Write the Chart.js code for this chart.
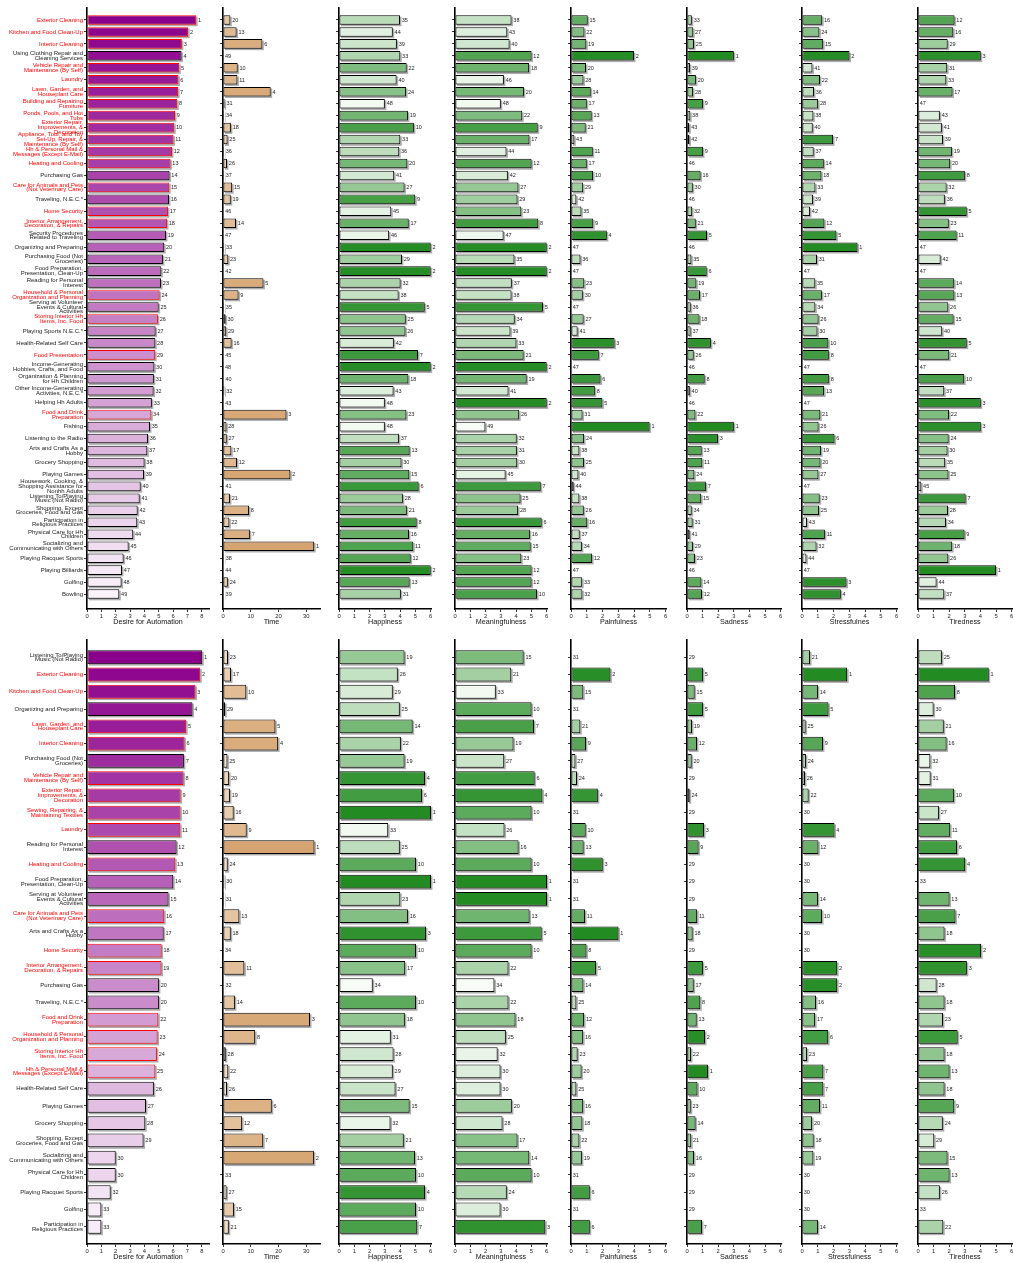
<!DOCTYPE html>
<html><head><meta charset="utf-8">
<script src="https://cdn.jsdelivr.net/npm/chart.js@4.4.1/dist/chart.umd.min.js"></script>
<style>
html,body{margin:0;padding:0;background:#fff;}
#wrap{position:relative;width:1013px;height:1263px;overflow:hidden;background:#fff;}
canvas{position:absolute;}
</style></head><body><div id="wrap"></div>
<script>
// ---------------- DATA ----------------
const topCats = [
"Exterior Cleaning","Kitchen and Food Clean-Up","Interior Cleaning","Using Clothing Repair and\nCleaning Services",
"Vehicle Repair and\nMaintenance (By Self)","Laundry","Lawn, Garden, and\nHouseplant Care","Building and Repairing\nFurniture",
"Ponds, Pools, and Hot\nTubs","Exterior Repair,\nImprovements, &\nDecoration","Appliance, Tool, and Toy\nSet-Up, Repair, &\nMaintenance (By Self)",
"Hh & Personal Mail &\nMessages (Except E-Mail)","Heating and Cooling","Purchasing Gas","Care for Animals and Pets\n(Not Veterinary Care)",
"Traveling, N.E.C.*","Home Security","Interior Arrangement,\nDecoration, & Repairs","Security Procedures\nRelated to Traveling",
"Organizing and Preparing","Purchasing Food (Not\nGroceries)","Food Preparation,\nPresentation, Clean-Up","Reading for Personal\nInterest",
"Household & Personal\nOrganization and Planning","Serving at Volunteer\nEvents & Cultural\nActivities","Storing Interior Hh\nItems, Inc. Food",
"Playing Sports N.E.C.*","Health-Related Self Care","Food Presentation","Income-Generating\nHobbies, Crafts, and Food",
"Organization & Planning\nfor Hh Children","Other Income-Generating\nActivities, N.E.C.*","Helping Hh Adults","Food and Drink\nPreparation",
"Fishing","Listening to the Radio","Arts and Crafts As a\nHobby","Grocery Shopping","Playing Games",
"Housework, Cooking, &\nShopping Assistance for\nNonhh Adults","Listening To/Playing\nMusic (Not Radio)","Shopping, Except\nGroceries, Food and Gas",
"Participation in\nReligious Practices","Physical Care for Hh\nChildren","Socializing and\nCommunicating with Others",
"Playing Racquet Sports","Playing Billiards","Golfing","Bowling"];
const topRed = [0,1,2,4,5,6,7,8,9,10,11,12,14,16,17,23,25,28,33];

const topAuto = [7.61,7.05,6.61,6.59,6.43,6.37,6.35,6.29,6.13,6.08,6.03,5.92,5.82,5.75,5.73,5.71,5.64,5.57,5.50,5.38,5.29,5.18,5.16,5.06,4.99,4.94,4.78,4.76,4.75,4.69,4.66,4.64,4.52,4.48,4.39,4.25,4.20,4.01,3.97,3.74,3.67,3.53,3.50,3.22,2.90,2.55,2.44,2.41,2.25];
const topAutoRank = [1,2,3,4,5,6,7,8,9,10,11,12,13,14,15,16,17,18,19,20,21,22,23,24,25,26,27,28,29,30,31,32,33,34,35,36,37,38,39,40,41,42,43,44,45,46,47,48,49];
const topTime = [2.65,4.9,14.2,0.05,5.3,5.2,17.2,0.6,0.4,2.85,1.65,0.35,1.45,0.32,3.3,2.8,0.12,4.7,0.1,0.45,1.9,0.2,14.6,5.6,0.37,0.95,1.15,3.1,0.14,0.08,0.25,0.5,0.18,22.9,1.25,1.35,3.0,5.05,24.3,0.22,2.5,9.4,2.3,9.7,32.9,0.3,0.16,1.75,0.28];
const topTimeRank = [20,13,6,49,10,11,4,31,34,18,25,36,26,37,15,19,46,14,47,33,23,42,5,9,35,30,29,16,45,48,40,32,43,3,28,27,17,12,2,41,21,8,22,7,1,38,44,24,39];
const topHapp = [3.99,3.52,3.79,4.01,4.43,3.77,4.39,3.0,4.51,4.90,4.01,3.94,4.47,3.61,4.29,4.99,3.42,4.56,3.28,6.0,4.12,6.0,4.03,3.90,5.61,4.37,4.35,3.59,5.17,6.0,4.54,3.57,3.0,4.41,3.0,3.92,4.62,4.09,4.60,5.21,4.18,4.44,5.08,4.58,4.86,4.69,6.0,4.62,4.05];
const topHappRank = [35,44,39,33,22,40,24,48,19,10,33,36,20,41,27,9,45,17,46,2,29,2,32,38,5,25,26,42,7,2,18,43,48,23,48,37,13,30,15,6,28,21,8,16,11,12,2,13,31];
const topMean = [3.70,3.42,3.57,5.01,4.85,3.20,4.51,3.0,4.40,5.41,4.87,3.37,5.01,3.46,4.15,4.09,4.34,5.45,3.18,6.0,3.89,6.0,3.72,3.70,5.76,3.91,3.63,4.02,4.49,6.0,4.69,3.50,6.0,4.20,1.99,4.04,4.05,4.07,3.31,5.61,4.29,4.13,5.67,4.90,4.95,4.34,5.01,5.01,5.37];
const topMeanRank = [38,43,40,12,18,46,20,48,22,9,17,44,12,42,27,29,23,8,47,2,35,2,37,38,5,34,39,33,21,2,19,41,2,26,49,32,31,30,45,7,25,28,6,16,15,23,12,12,10];
const topPain = [1.06,0.85,0.97,3.99,0.95,0.79,1.25,1.0,1.31,0.93,0.21,1.38,1.0,1.40,0.77,0.34,0.66,1.41,2.27,0,0.60,0,0.84,0.75,0,0.80,0.42,2.76,1.76,0,1.87,1.51,1.99,0.73,4.98,0.83,0.53,0.82,0.47,0.17,0.53,0.81,1.03,0.55,0.69,1.34,0,0.71,0.72];
const topPainRank = [15,22,19,2,20,28,14,17,13,21,43,11,17,10,29,42,35,9,4,47,36,47,23,30,47,27,41,3,7,47,6,8,5,31,1,24,38,25,40,44,38,26,16,37,34,12,47,33,32];
const topSad = [0.31,0.40,0.45,3.0,0.19,0.57,0.39,1.02,0.21,0.15,0.16,1.02,0,0.87,0.37,0,0.33,0.56,1.28,0,0.28,1.26,0.60,0.83,0.24,0.80,0.23,1.53,0.43,0,1.13,0.18,0,0.54,3.0,1.98,0.94,0.98,0.47,1.21,0.91,0.30,0.36,0.17,0.38,0.51,0,0.92,0.96];
const topSadRank = [33,27,25,1,39,20,28,9,38,43,42,9,46,16,30,46,32,21,5,46,35,6,19,17,36,18,37,4,26,46,8,40,46,22,1,3,13,11,24,7,15,34,31,41,29,23,46,14,12];
const topStress = [1.28,1.10,1.34,3.01,0.66,1.14,0.76,1.02,0.72,0.68,1.97,0.74,1.38,1.23,0.85,0.70,0.51,1.42,2.18,3.52,0.95,0,0.84,1.26,0.845,1.05,0.98,1.67,1.70,0,1.70,1.40,0,1.16,1.05,2.06,1.21,1.17,1.04,0,1.12,1.08,0.32,1.45,0.92,0.28,0,2.82,2.46];
const topStressRank = [16,24,15,2,41,22,36,28,38,40,7,37,14,18,33,39,42,12,5,1,31,47,35,17,34,26,30,10,8,47,8,13,47,21,26,6,19,20,27,47,23,25,43,11,32,44,47,3,4];
const topTired = [2.34,2.26,1.90,4.02,1.87,1.81,2.21,0,1.40,1.53,1.60,2.17,2.06,3.0,1.83,1.72,3.12,1.97,2.47,0,1.45,0,2.32,2.33,1.94,2.28,1.55,3.12,2.0,0,2.96,1.68,4.02,1.99,4.02,1.96,1.89,1.74,1.95,0.21,3.05,1.92,1.79,2.98,2.19,1.94,5.0,1.19,1.68];
const topTiredRank = [12,16,29,3,31,33,17,47,43,41,39,19,20,8,32,36,5,23,11,47,42,47,14,13,26,15,40,5,21,47,10,37,3,22,3,24,30,35,25,45,7,28,34,9,18,26,1,44,37];

const botCats = [
"Listening To/Playing\nMusic (Not Radio)","Exterior Cleaning","Kitchen and Food Clean-Up","Organizing and Preparing",
"Lawn, Garden, and\nHouseplant Care","Interior Cleaning","Purchasing Food (Not\nGroceries)","Vehicle Repair and\nMaintenance (By Self)",
"Exterior Repair,\nImprovements, &\nDecoration","Sewing, Repairing, &\nMaintaining Textiles","Laundry","Reading for Personal\nInterest",
"Heating and Cooling","Food Preparation,\nPresentation, Clean-Up","Serving at Volunteer\nEvents & Cultural\nActivities",
"Care for Animals and Pets\n(Not Veterinary Care)","Arts and Crafts As a\nHobby","Home Security","Interior Arrangement,\nDecoration, & Repairs",
"Purchasing Gas","Traveling, N.E.C.*","Food and Drink\nPreparation","Household & Personal\nOrganization and Planning",
"Storing Interior Hh\nItems, Inc. Food","Hh & Personal Mail &\nMessages (Except E-Mail)","Health-Related Self Care","Playing Games",
"Grocery Shopping","Shopping, Except\nGroceries, Food and Gas","Socializing and\nCommunicating with Others","Physical Care for Hh\nChildren",
"Playing Racquet Sports","Golfing","Participation in\nReligious Practices"];
const botRed = [1,2,4,5,7,8,9,10,12,15,17,18,21,22,23,24];

const botAuto = [8.03,7.89,7.56,7.35,6.91,6.80,6.75,6.73,6.52,6.51,6.50,6.24,6.15,6.01,5.68,5.38,5.34,5.20,5.19,5.01,5.01,4.97,4.92,4.87,4.76,4.66,4.11,4.06,3.94,2.0,2.0,1.65,1.0,1.0];
const botAutoRank = [1,2,3,4,5,6,7,8,9,10,11,12,13,14,15,16,17,18,19,20,20,22,23,24,25,26,27,28,29,30,30,32,33,33];
const botTime = [1.8,2.9,8.4,0.8,18.9,19.9,1.6,2.2,2.5,3.85,8.55,33.0,1.7,0.5,0.35,5.9,2.8,0.05,7.7,0.25,4.3,31.4,11.6,1.0,1.9,1.45,17.6,6.9,14.5,32.8,0.1,1.3,3.95,2.1];
const botTimeRank = [23,17,10,29,5,4,25,20,19,16,9,1,24,30,31,13,18,34,11,32,14,3,8,28,22,26,6,12,7,2,33,27,15,21];
const botHapp = [4.29,3.85,3.52,3.98,4.82,4.05,4.29,5.63,5.43,6.02,3.22,3.98,5.04,6.02,4.01,4.51,5.69,5.04,4.33,2.21,5.04,4.31,3.39,3.57,3.52,3.70,4.62,3.37,4.24,4.97,5.04,5.63,5.04,5.12];
const botHappRank = [19,26,29,25,14,22,19,4,6,1,33,25,10,1,23,16,3,10,17,34,10,18,31,28,29,27,15,32,21,13,10,4,10,7];
const botMean = [4.49,3.68,2.67,5.01,5.17,3.83,3.22,5.21,5.72,5.01,3.24,4.16,5.01,6.02,6.02,4.88,5.67,5.01,3.50,2.58,3.50,3.96,3.33,2.79,2.98,2.98,3.72,3.11,4.09,4.86,5.01,3.39,2.98,5.91];
const botMeanRank = [15,21,33,10,7,19,27,6,4,10,26,16,10,1,1,13,5,10,22,34,22,18,25,32,30,30,20,28,17,14,10,24,30,3];
const botPain = [0,2.50,0.78,0,0.59,0.95,0.28,0.38,1.70,0,0.93,0.80,2.01,0,0,0.89,3.01,0.98,1.59,0.785,0.34,0.83,0.77,0.42,0.67,0.34,0.77,0.72,0.53,0.69,0,1.19,0,1.19];
const botPainRank = [31,2,15,31,21,9,27,24,4,31,10,13,3,31,31,11,1,8,5,14,25,12,16,23,20,25,16,18,22,19,31,6,31,6];
const botSad = [0,1.02,0.49,1.02,0.32,0.64,0.30,0,0.17,0,1.09,0.74,0,0,0,0.65,0.36,0,1.02,0.43,0.85,0.62,1.15,0.26,1.34,0.67,0.24,0.55,0.27,0.45,0,0,0,0.96];
const botSadRank = [29,5,15,5,19,12,20,29,24,29,3,9,29,29,29,11,18,29,5,17,8,13,2,22,1,10,23,14,21,16,29,29,29,7];
const botStress = [0.51,2.86,1.01,1.68,0.23,1.33,0.25,0.19,0.42,0,2.06,1.04,0,0,1.01,1.27,0,0,2.23,2.23,0.89,0.83,1.66,0.32,1.35,1.35,1.14,0.64,0.74,0.72,0,0,0,1.01];
const botStressRank = [21,1,14,5,25,9,24,26,22,30,4,12,30,30,14,10,30,30,2,2,16,17,6,23,7,7,11,20,18,19,30,30,30,14];
const botTired = [1.53,4.53,2.37,1.00,1.65,1.83,0.79,0.81,2.30,1.34,2.06,2.50,3.02,0,2.02,2.40,1.70,4.04,3.13,1.19,1.70,1.60,2.54,1.70,2.02,1.70,2.32,1.59,1.04,1.89,2.02,1.40,0,1.62];
const botTiredRank = [25,1,8,30,21,16,32,31,10,27,11,6,4,33,13,7,18,2,3,28,18,23,5,18,13,18,9,24,29,15,13,26,33,22];

const topTitles = ["Desire for Automation","Time","Happiness","Meaningfulness","Painfulness","Sadness","Stressfulnes","Tiredness"];
const botTitles = ["Desire for Automation","Time","Happiness","Meaningfulness","Painfulness","Sadness","Stressfulness","Tiredness"];
const autoTicks = [0,1,2,3,4,5,6,7,8];
const timeTicks = [0,10,20,30];
const scoreTicks = [0,1,2,3,4,5,6];

// ---------------- STYLE / LAYOUT ----------------
const FONT = "'Liberation Sans', Arial, Helvetica, sans-serif";
const GREEN = {dark:[34,139,34], light:[247,252,246]};
const columns = [
  {left:87,    width:122.3, max:8.5,  ticks:autoTicks,  dark:[139,0,139],   light:[250,243,250]},
  {left:223.3, width:96.7,  max:35,   ticks:timeTicks,  dark:[214,164,112], light:[255,251,246]},
  {left:339,   width:91.6,  max:6.02, ticks:scoreTicks, ...GREEN},
  {left:455,   width:91.6,  max:6.02, ticks:scoreTicks, ...GREEN},
  {left:571,   width:94.5,  max:6.02, ticks:scoreTicks, ...GREEN},
  {left:686.7, width:94.3,  max:6.02, ticks:scoreTicks, ...GREEN},
  {left:802.3, width:94.6,  max:6.02, ticks:scoreTicks, ...GREEN},
  {left:918.3, width:94.3,  max:6.02, ticks:scoreTicks, ...GREEN}
];
const panels = [
  {top:8, bottom:609, ymax:50.25, cats:topCats, red:topRed, titles:topTitles,
   values:[topAuto,topTime,topHapp,topMean,topPain,topSad,topStress,topTired],
   ranks:[topAutoRank,topTimeRank,topHappRank,topMeanRank,topPainRank,topSadRank,topStressRank,topTiredRank]},
  {top:640, bottom:1244, ymax:35, cats:botCats, red:botRed, titles:botTitles,
   values:[botAuto,botTime,botHapp,botMean,botPain,botSad,botStress,botTired],
   ranks:[botAutoRank,botTimeRank,botHappRank,botMeanRank,botPainRank,botSadRank,botStressRank,botTiredRank]}
];

function mix(a,b,t){return 'rgb('+a.map((v,i)=>Math.round(v+(b[i]-v)*t)).join(',')+')';}

const shadowPlugin = {id:'shadow', beforeDatasetsDraw(chart){
  const ctx = chart.ctx; const meta = chart.getDatasetMeta(0);
  ctx.save(); ctx.fillStyle = 'rgba(0,0,0,0.32)';
  meta.data.forEach(el => {
    const p = el.getProps(['x','y','base','height'], true);
    const w = p.x - p.base; if (w <= 0.05) return;
    ctx.fillRect(p.base + 1.5, p.y - p.height/2 + 1.5, w, p.height);
  });
  ctx.restore();
}};
function rankPlugin(ranks){ return {id:'ranks', afterDatasetsDraw(chart){
  const ctx = chart.ctx; const meta = chart.getDatasetMeta(0);
  ctx.save(); ctx.font = '5.5px ' + FONT; ctx.fillStyle = '#222'; ctx.textBaseline = 'middle'; ctx.textAlign = 'left';
  meta.data.forEach((el,i) => { ctx.fillText(String(ranks[i]), el.x + 1.8, el.y + 0.3); });
  ctx.restore();
}};}

const wrap = document.getElementById('wrap');
function makeChart(panel, ci){
  const col = columns[ci];
  const padL = ci === 0 ? 87 : 8, padR = 14, padT = 4, padB = 17;
  const plotH = panel.bottom - panel.top;
  const c = document.createElement('canvas');
  c.width = Math.round(padL + col.width + padR);
  c.height = Math.round(padT + plotH + padB);
  c.style.left = (col.left - padL) + 'px';
  c.style.top = (panel.top - padT) + 'px';
  wrap.appendChild(c);
  const vals = panel.values[ci], ranks = panel.ranks[ci];
  const maxRank = panel.cats.length;
  const data = vals.map((v,i) => ({x:v, y:i+1}));
  const bg = ranks.map(r => mix(col.dark, col.light, (r-1)/(maxRank-1)));
  const bc = panel.cats.map((_,i) => (ci === 0 && panel.red.includes(i)) ? '#ff0000' : '#000');
  new Chart(c, {
    type:'bar',
    data:{datasets:[{data, backgroundColor:bg, borderColor:bc, borderWidth:1, borderSkipped:false,
      barPercentage:0.8, categoryPercentage:1}]},
    options:{
      indexAxis:'y', responsive:false, animation:false, devicePixelRatio:1,
      layout:{autoPadding:false, padding:{left:0, right:padR, top:padT, bottom:0}},
      plugins:{legend:{display:false}, tooltip:{enabled:false}},
      scales:{
        y:{type:'linear', reverse:true, min:0, max:panel.ymax, bounds:'data', offset:false,
          afterBuildTicks: s => { s.ticks = panel.cats.map((_,i) => ({value:i+1})); },
          afterFit: s => { s.width = padL; s.paddingTop = 0; s.paddingBottom = 0; },
          ticks:{display: ci === 0, autoSkip:false, padding:1,
            font:{family:FONT, size:6, lineHeight:0.8},
            color: ctx => panel.red.includes(ctx.index) ? '#ff0000' : '#1a1a1a',
            callback: v => { const s = panel.cats[Math.round(v)-1]; return s ? s.split('\n') : ''; }},
          grid:{display:true, offset:false, drawOnChartArea:false, drawTicks:true, tickLength:3, tickColor:'#000', tickWidth:0.8},
          border:{display:true, color:'#000', width:1.6}
        },
        x:{type:'linear', min:0, max:col.max, bounds:'data',
          afterBuildTicks: s => { s.ticks = col.ticks.map(v => ({value:v})); },
          afterFit: s => { s.height = padB; s.paddingLeft = 0; s.paddingRight = 0; },
          ticks:{autoSkip:false, maxRotation:0, padding:1, font:{family:FONT, size:5.8}, color:'#222'},
          grid:{display:true, drawOnChartArea:false, drawTicks:true, tickLength:3, tickColor:'#000', tickWidth:0.8},
          border:{display:true, color:'#000', width:1.6},
          title:{display:true, text:panel.titles[ci], font:{family:FONT, size:7.2}, color:'#111', padding:{top:0, bottom:0}}
        }
      }
    },
    plugins:[shadowPlugin, rankPlugin(ranks)]
  });
}
panels.forEach(p => columns.forEach((_, ci) => makeChart(p, ci)));
</script></body></html>
